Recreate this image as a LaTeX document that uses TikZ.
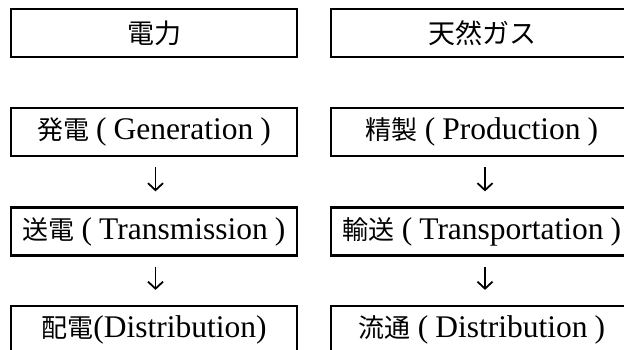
\documentclass[tikz,border=0pt]{standalone}
\usepackage{fontspec}
\setmainfont{Liberation Serif}
\newfontfamily\jp{Noto Sans CJK JP}
\usetikzlibrary{arrows.meta}
\tikzset{
  box/.style={draw=black, line width=2.2pt, rectangle, inner sep=0pt, minimum height=48pt},
  lbox/.style={box, minimum width=286pt},
  rbox/.style={box, minimum width=302pt},
  head/.style={font=\fontsize{27pt}{30pt}\selectfont\jp},
  body/.style={font=\fontsize{31.5pt}{34pt}\selectfont},
  flow/.style={line width=1.4pt, -{Straight Barb[length=7pt,width=15pt,line width=1.8pt]}, shorten <=10pt, shorten >=15pt}
}
\newcommand{\pg}{\hspace{7pt}}
\newcommand{\kj}[1]{{\jp\fontsize{26pt}{30pt}\selectfont #1}}
\begin{document}
\begin{tikzpicture}[x=1pt,y=-1pt]
\useasboundingbox (0,0) rectangle (624,350);
\clip (0,0) rectangle (624,350);
\node[lbox, head] (l1) at (154,33) {電力};
\node[rbox, head] (r1) at (482,33) {天然ガス};
\node[lbox, body] (l2) at (154,132) {\kj{発電}\pg(\pg Generation\pg)};
\node[rbox, body] (r2) at (482,132) {\kj{精製}\pg(\pg Production\pg)};
\node[lbox, body] (l3) at (154,231.5) {\kj{送電}\pg(\pg Transmission\pg)};
\node[rbox, body] (r3) at (482,231.5) {\kj{輸送}\pg(\pg Transportation\pg)};
\node[lbox, body] (l4) at (154,330) {\kj{配電}(Distribution)};
\node[rbox, body] (r4) at (482,330) {\kj{流通}\pg(\pg Distribution\pg)};
\draw[flow] ([xshift=1.5pt]l2.south) -- ([xshift=1.5pt]l3.north);
\draw[flow] ([xshift=1.5pt]l3.south) -- ([xshift=1.5pt]l4.north);
\draw[flow] ([xshift=3pt]r2.south) -- ([xshift=3pt]r3.north);
\draw[flow] ([xshift=3pt]r3.south) -- ([xshift=3pt]r4.north);
\end{tikzpicture}
\end{document}
